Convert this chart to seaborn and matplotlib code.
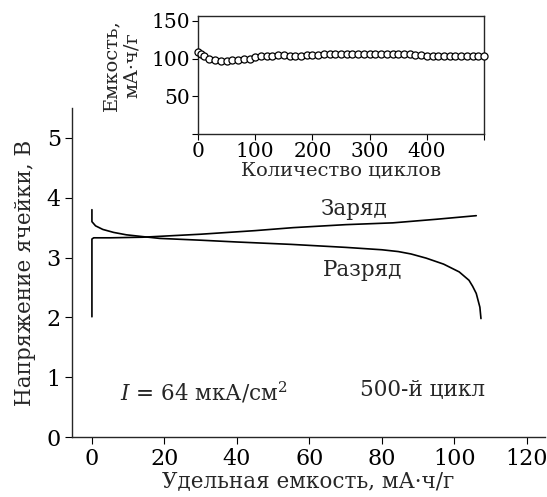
import numpy as np
import pandas as pd
import matplotlib
matplotlib.use('Agg')
import matplotlib.pyplot as plt
import seaborn as sns

# charge curve (Заряд)
charge_cap = [0, 0, 0.5, 5, 14, 30, 45, 55.5, 70, 83, 95, 106]
charge_v = [2.01, 3.31, 3.33, 3.33, 3.34, 3.39, 3.45, 3.50, 3.55, 3.58, 3.64, 3.70]

# discharge curve (Разряд)
dis_cap = [0, 0, 1, 3, 6, 9.5, 14, 18.7, 30, 40, 55, 70, 80, 84.5, 88, 92.2, 97, 101.3, 104, 105, 106, 107, 107.3]
dis_v = [3.80, 3.60, 3.53, 3.47, 3.42, 3.38, 3.35, 3.32, 3.29, 3.26, 3.22, 3.17, 3.13, 3.10, 3.06, 2.99, 2.89, 2.76, 2.62, 2.52, 2.40, 2.17, 1.98]

# inset: capacity vs cycle number
cycles = [0, 5, 10, 20, 30, 40, 50, 60, 70, 80, 90, 100, 110, 120, 130, 140, 150,
          160, 170, 180, 190, 200, 210, 220, 230, 240, 250, 260, 270, 280, 290, 300,
          310, 320, 330, 340, 350, 360, 370, 380, 390, 400, 410, 420, 430, 440, 450,
          460, 470, 480, 490, 500]
capacity = [109, 106, 103, 99, 98, 97, 97, 98, 98, 99, 100, 102, 104, 104, 104, 105, 105,
            104, 104, 104, 105, 105, 105, 106, 106, 106, 106, 106, 106, 106, 106, 106,
            106, 106, 106, 106, 106, 106, 106, 105, 105, 104, 104, 104, 104, 104, 104,
            103, 103, 103, 103, 103]

sns.set_style('ticks')
plt.rcParams['font.family'] = ['DejaVu Serif']
plt.rcParams['mathtext.fontset'] = 'dejavuserif'
plt.rcParams['axes.linewidth'] = 1.0
plt.rcParams['xtick.major.size'] = 5
plt.rcParams['ytick.major.size'] = 5

fig = plt.figure(figsize=(5.47, 4.97), dpi=100)
ax = fig.add_axes([0.1316, 0.1207, 0.865, 0.662])

sns.lineplot(x=charge_cap, y=charge_v, sort=False, estimator=None, color='black', lw=1.2, ax=ax)
sns.lineplot(x=dis_cap, y=dis_v, sort=False, estimator=None, color='black', lw=1.2, ax=ax)

ax.set_xlim(-5.5, 125)
ax.set_ylim(0, 5.5)
ax.set_xticks([0, 20, 40, 60, 80, 100, 120])
ax.set_yticks([0, 1, 2, 3, 4, 5])
ax.tick_params(labelsize=16, colors='black', pad=3)
ax.set_xlabel('Удельная емкость, мА·ч/г', fontsize=15.5, labelpad=0)
ax.set_ylabel('Напряжение ячейки, В', fontsize=15.5, labelpad=8)
sns.despine(ax=ax)

ax.text(72.4, 3.81, 'Заряд', fontsize=15.5, ha='center', va='center')
ax.text(74.6, 2.79, 'Разряд', fontsize=15.5, ha='center', va='center')
ax.text(7.7, 0.74, '$I$ = 64 мкА/см$^2$', fontsize=15.5, ha='left', va='center')
ax.text(73.8, 0.79, '500-й цикл', fontsize=15.5, ha='left', va='center')

ins = fig.add_axes([0.362, 0.731, 0.523, 0.2375])
sns.scatterplot(x=cycles, y=capacity, marker='o', s=26, facecolor='white',
                edgecolor='black', linewidth=0.9, ax=ins, zorder=3, clip_on=False)
ins.set_xlim(0, 500)
ins.set_ylim(0, 157)
ins.set_xticks([0, 100, 200, 300, 400, 500])
ins.set_xticklabels(['0', '100', '200', '300', '400', ''])
ins.set_yticks([0, 50, 100, 150])
ins.set_yticklabels(['', '50', '100', '150'])
ins.tick_params(labelsize=14.5, colors='black', length=4, pad=2)
ins.set_xlabel('Количество циклов', fontsize=14, labelpad=0)
ins.set_ylabel('Емкость,\nмА·ч/г', fontsize=14, linespacing=1.15)
ins.yaxis.set_label_coords(-0.2, 0.58)

fig.savefig('out.png', dpi=100)
